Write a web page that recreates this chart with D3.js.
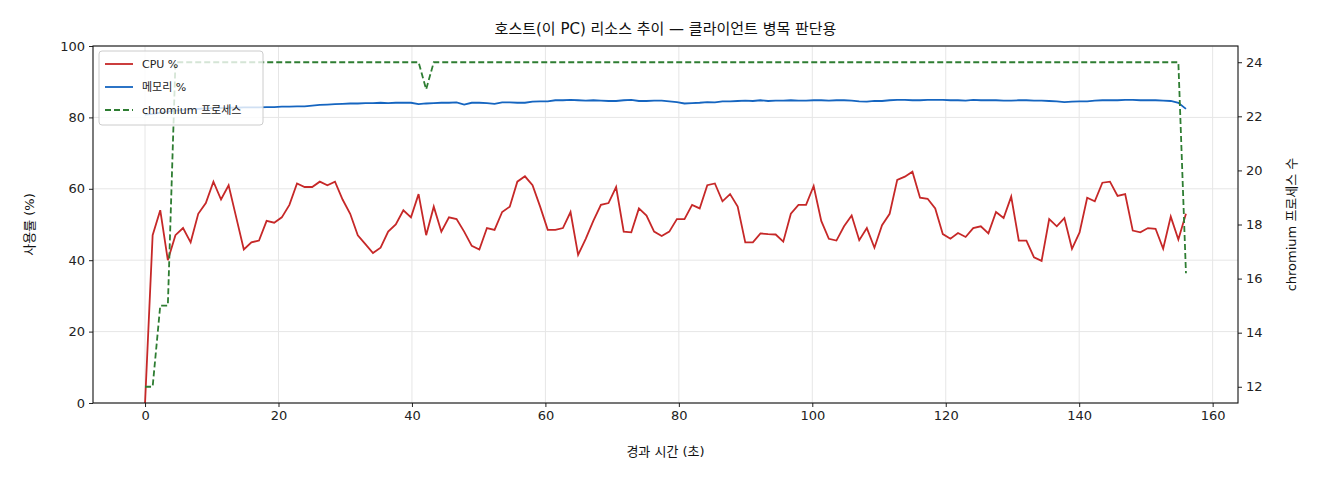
<!DOCTYPE html>
<html><head><meta charset="utf-8">
<script src="https://cdn.jsdelivr.net/npm/d3@7"></script>
<style>body{margin:0;background:#fff}text{font-family:"DejaVu Sans","Noto Sans CJK KR",sans-serif}</style>
</head><body><svg id="c" width="1320" height="480"></svg>
<script>
const duration = 156;
const cpu = [0,47,54,40,47,49,45,53,56,62,
57,61,52,43,45,45.5,51,50.5,52,55.5,
61.5,60.5,60.5,62,61,62,57,53,47,44.5,
42,43.5,48,50,54,52,58.5,47,55,48,
52,51.5,48,44,43,49,48.5,53.5,55,62,
63.5,61,55,48.5,48.5,49,53.5,41.5,46,51,
55.5,56,60.5,48,47.8,54.5,52.5,48,46.8,48,
51.5,51.5,55.5,54.5,61,61.5,56.5,58.5,55,45,
45,47.5,47.3,47.2,45.2,53,55.5,55.5,60.8,51,
46,45.5,49.5,52.5,45.6,49,43.5,49.8,53,62.5,
63.4,64.8,57.5,57.2,54.5,47.3,46,47.6,46.5,49,
49.5,47.5,53.5,51.8,57.8,45.5,45.5,40.8,39.8,51.5,
49.5,51.8,43.2,47.8,57.5,56.5,61.7,62,58,58.5,
48.3,47.8,49,48.8,43.2,52.2,45.8,53];
const mem = [80.8,81,81.3,81.6,81.9,82.1,82.3,82.4,82.5,82.6,
82.6,82.7,82.7,82.8,82.8,82.8,82.9,82.9,83,83,
83.1,83.1,83.3,83.5,83.6,83.7,83.8,83.9,83.9,84,
84,84.1,84,84.1,84.1,84.1,83.7,83.9,84.0,84.1,
84.1,84.2,83.6,84.1,84.1,84,83.8,84.2,84.2,84.1,
84.1,84.4,84.5,84.5,84.8,84.8,84.9,84.8,84.7,84.8,
84.7,84.6,84.6,84.8,84.9,84.6,84.6,84.7,84.7,84.5,
84.3,83.9,84,84.1,84.3,84.2,84.5,84.5,84.6,84.7,
84.6,84.8,84.6,84.7,84.7,84.8,84.7,84.7,84.8,84.8,
84.7,84.8,84.8,84.7,84.5,84.4,84.6,84.6,84.8,84.9,
84.9,84.8,84.8,84.9,84.9,84.9,84.8,84.8,84.7,84.9,
84.8,84.8,84.8,84.7,84.7,84.8,84.8,84.7,84.7,84.6,
84.5,84.3,84.4,84.5,84.5,84.7,84.8,84.8,84.8,84.9,
84.9,84.8,84.8,84.8,84.7,84.6,84.1,82.4];
const chromium = [12,12,15,15,24,24,24,24,24,24,24,24,24,24,24,24,24,24,24,24,
24,24,24,24,24,24,24,24,24,24,24,24,24,24,24,24,24,23,24,24,
24,24,24,24,24,24,24,24,24,24,24,24,24,24,24,24,24,24,24,24,
24,24,24,24,24,24,24,24,24,24,24,24,24,24,24,24,24,24,24,24,
24,24,24,24,24,24,24,24,24,24,24,24,24,24,24,24,24,24,24,24,
24,24,24,24,24,24,24,24,24,24,24,24,24,24,24,24,24,24,24,24,
24,24,24,24,24,24,24,24,24,24,24,24,24,24,24,24,24,16.2];
const xTicks = [0,20,40,60,80,100,120,140,160];
const yTicks = [0,20,40,60,80,100];
const y2Ticks = [12,14,16,18,20,22,24];
const labels = {title:"호스트(이 PC) 리소스 추이 — 클라이언트 병목 판단용", x:"경과 시간 (초)", y:"사용률 (%)", y2:"chromium 프로세스 수",
  cpu:"CPU %", mem:"메모리 %", chr:"chromium 프로세스"};

const L=93,R=1238,T=46,B=403;
const svg=d3.select("#c");
const n=cpu.length, dt=duration/(n-1);
const times=cpu.map((_,i)=>i*dt);
const x=d3.scaleLinear().domain([-0.05*duration,1.05*duration]).range([L,R]);
const y=d3.scaleLinear().domain([0,100]).range([B,T]);
const y2=d3.scaleLinear().domain([11.4,24.6]).range([B,T]);
const g=svg.append("g");
g.selectAll(".gx").data(xTicks).join("line").attr("x1",d=>x(d)).attr("x2",d=>x(d)).attr("y1",T).attr("y2",B).attr("stroke","#e6e6e6");
g.selectAll(".gy").data(yTicks).join("line").attr("x1",L).attr("x2",R).attr("y1",d=>y(d)).attr("y2",d=>y(d)).attr("stroke","#e6e6e6");
const clip=svg.append("clipPath").attr("id","cl").append("rect").attr("x",L).attr("y",T).attr("width",R-L).attr("height",B-T);
const line=(ys,sc)=>d3.line().x((d,i)=>x(times[i])).y(d=>sc(d))(ys);
const pl=svg.append("g").attr("clip-path","url(#cl)");
pl.append("path").attr("d",line(cpu,y)).attr("fill","none").attr("stroke","#c62828").attr("stroke-width",1.8);
pl.append("path").attr("d",line(mem,y)).attr("fill","none").attr("stroke","#1565c0").attr("stroke-width",1.8);
pl.append("path").attr("d",line(chromium,y2)).attr("fill","none").attr("stroke","#2e7d32").attr("stroke-width",1.8).attr("stroke-dasharray","6,3");
const fs=13;
const ax=svg.append("g").attr("transform",`translate(0,${B})`).call(d3.axisBottom(x).tickValues(xTicks).tickSize(4).tickPadding(4));
const ay=svg.append("g").attr("transform",`translate(${L},0)`).call(d3.axisLeft(y).tickValues(yTicks).tickSize(4).tickPadding(4));
const ay2=svg.append("g").attr("transform",`translate(${R},0)`).call(d3.axisRight(y2).tickValues(y2Ticks).tickSize(4).tickPadding(4));
[ax,ay,ay2].forEach(a=>{a.select(".domain").remove();a.selectAll("text").attr("font-size",fs).attr("fill","#222").style("font-family",'"DejaVu Sans","Noto Sans CJK KR"');a.selectAll("line").attr("stroke","#222");});
svg.append("rect").attr("x",L).attr("y",T).attr("width",R-L).attr("height",B-T).attr("fill","none").attr("stroke","#111").attr("stroke-width",1.1);
svg.append("text").attr("x",(L+R)/2).attr("y",34).attr("text-anchor","middle").attr("font-size",15).attr("fill","#111").text(labels.title);
svg.append("text").attr("x",(L+R)/2).attr("y",456).attr("text-anchor","middle").attr("font-size",13).attr("fill","#111").text(labels.x);
svg.append("text").attr("transform",`translate(34,${(T+B)/2}) rotate(-90)`).attr("text-anchor","middle").attr("font-size",13).attr("fill","#111").text(labels.y);
svg.append("text").attr("transform",`translate(1296,${(T+B)/2}) rotate(-90)`).attr("text-anchor","middle").attr("font-size",13).attr("fill","#111").text(labels.y2);
const lg=svg.append("g");
lg.append("rect").attr("x",99).attr("y",51).attr("width",164).attr("height",74).attr("rx",3).attr("fill","#fff").attr("fill-opacity",0.8).attr("stroke","#ccc");
[[labels.cpu,"#c62828",null,64],[labels.mem,"#1565c0",null,87],[labels.chr,"#2e7d32","6,3",110]].forEach(([t,c,da,yy])=>{
  lg.append("line").attr("x1",105).attr("x2",133).attr("y1",yy).attr("y2",yy).attr("stroke",c).attr("stroke-width",1.8).attr("stroke-dasharray",da);
  lg.append("text").attr("x",142).attr("y",yy+4).attr("font-size",11).attr("fill","#222").text(t);
});
</script></body></html>
